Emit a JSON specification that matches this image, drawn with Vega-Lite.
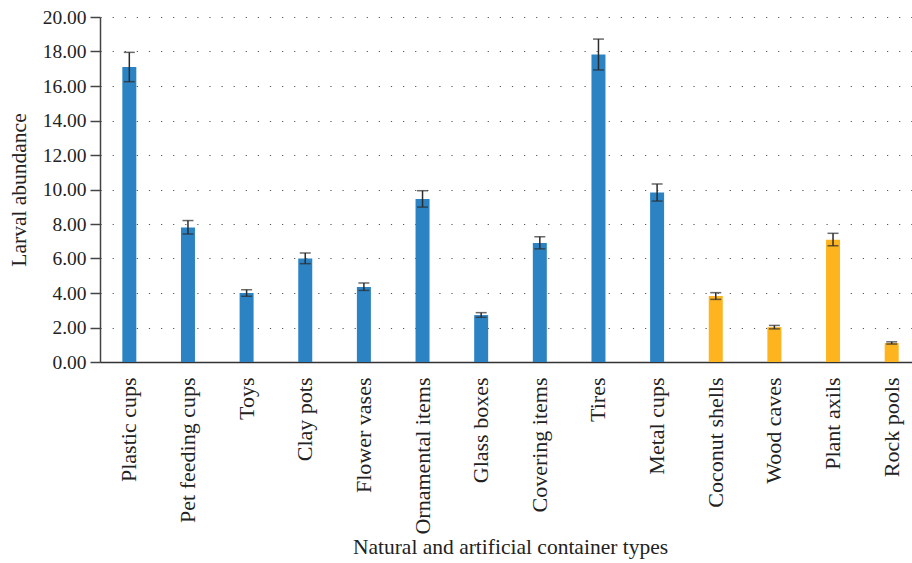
{
  "$schema": "https://vega.github.io/schema/vega-lite/v6.json",
  "width": 812,
  "height": 345,
  "autosize": {"type": "none"},
  "padding": {"left": 100, "top": 17, "right": 0, "bottom": 201},
  "background": "white",
  "config": {
    "view": {"stroke": null},
    "font": "Liberation Serif",
    "axis": {
      "labelFont": "Liberation Serif",
      "titleFont": "Liberation Serif",
      "labelColor": "#222",
      "titleColor": "#222",
      "titleFontWeight": "normal"
    },
    "axisY": {
      "title": "Larval abundance",
      "titleFontSize": 21.5,
      "titlePadding": 12,
      "format": ".2f",
      "values": [0, 2, 4, 6, 8, 10, 12, 14, 16, 18, 20],
      "labelFontSize": 19.5,
      "labelPadding": 4,
      "labelOverlap": false,
      "tickSize": 10,
      "tickColor": "#444",
      "tickWidth": 1.5,
      "domainColor": "#444",
      "domainWidth": 1.5,
      "grid": true,
      "gridColor": "#555",
      "gridDash": [1.2, 10.9],
      "gridWidth": 1.2
    }
  },
  "data": {
    "values": [
      {"container": "Plastic cups", "kind": "Artificial", "abundance": 17.1, "low": 16.25, "high": 17.95},
      {"container": "Pet feeding cups", "kind": "Artificial", "abundance": 7.8, "low": 7.42, "high": 8.2},
      {"container": "Toys", "kind": "Artificial", "abundance": 4.0, "low": 3.81, "high": 4.19},
      {"container": "Clay pots", "kind": "Artificial", "abundance": 6.0, "low": 5.7, "high": 6.32},
      {"container": "Flower vases", "kind": "Artificial", "abundance": 4.35, "low": 4.15, "high": 4.58},
      {"container": "Ornamental items", "kind": "Artificial", "abundance": 9.45, "low": 8.98, "high": 9.93},
      {"container": "Glass boxes", "kind": "Artificial", "abundance": 2.72, "low": 2.59, "high": 2.86},
      {"container": "Covering items", "kind": "Artificial", "abundance": 6.9, "low": 6.56, "high": 7.26},
      {"container": "Tires", "kind": "Artificial", "abundance": 17.83, "low": 16.93, "high": 18.72},
      {"container": "Metal cups", "kind": "Artificial", "abundance": 9.82, "low": 9.33, "high": 10.32},
      {"container": "Coconut shells", "kind": "Natural", "abundance": 3.83, "low": 3.63, "high": 4.02},
      {"container": "Wood caves", "kind": "Natural", "abundance": 2.02, "low": 1.92, "high": 2.12},
      {"container": "Plant axils", "kind": "Natural", "abundance": 7.08, "low": 6.74, "high": 7.46},
      {"container": "Rock pools", "kind": "Natural", "abundance": 1.1, "low": 1.04, "high": 1.17}
    ]
  },
  "encoding": {
    "x": {
      "field": "container",
      "type": "nominal",
      "sort": null,
      "scale": {"range": [0, 821], "paddingInner": 0, "paddingOuter": 0},
      "axis": {
        "title": "Natural and artificial container types",
        "titleFontSize": 21.5,
        "titleX": 410,
        "titlePadding": 2,
        "labelAngle": -90,
        "labelAlign": "right",
        "labelBaseline": "middle",
        "labelFontSize": 22,
        "labelPadding": 15,
        "ticks": false,
        "grid": false,
        "domainColor": "#333",
        "domainWidth": 1.5
      }
    }
  },
  "layer": [
    {
      "mark": {"type": "bar", "size": 14},
      "encoding": {
        "y": {
          "field": "abundance",
          "type": "quantitative",
          "scale": {"domain": [0, 20], "nice": false},
          "title": "Larval abundance"
        },
        "color": {
          "field": "kind",
          "type": "nominal",
          "scale": {"domain": ["Artificial", "Natural"], "range": ["#2C83C3", "#FDB41E"]},
          "legend": null
        }
      }
    },
    {
      "mark": {
        "type": "errorbar",
        "ticks": {"size": 11, "thickness": 1.5, "color": "#2b2b2b"},
        "rule": {"strokeWidth": 1.5, "color": "#2b2b2b"}
      },
      "encoding": {
        "y": {"field": "low", "type": "quantitative", "title": "Larval abundance"},
        "y2": {"field": "high"}
      }
    }
  ]
}
